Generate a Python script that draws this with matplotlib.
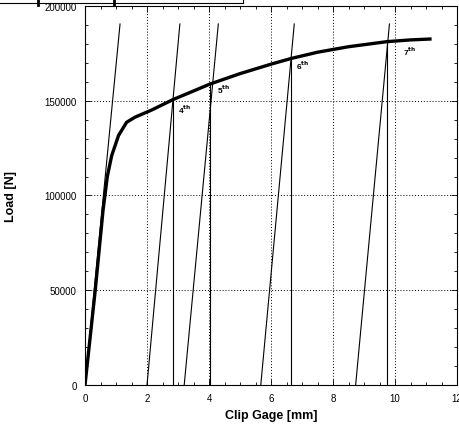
import numpy as np
import matplotlib.pyplot as plt
from matplotlib.lines import Line2D
from matplotlib.ticker import MultipleLocator

plt.rcParams['font.family'] = ['Liberation Sans', 'DejaVu Sans']

# main load - clip gage curve
clip = [0, 0.33, 0.58, 0.65, 0.72, 0.86, 1.08, 1.34, 1.61, 2.15, 2.85, 3.45, 4.03, 5.0, 6.0, 6.65, 7.5, 8.5, 9.75, 10.5, 11.18]
load = [0, 50000, 92000, 101000, 110000, 121000, 131600, 138600, 141300, 145100, 150700, 154800, 158800, 164300, 169300, 172300, 175600, 178500, 181200, 182100, 182600]

# unloading / reloading compliance lines (start at zero load, end at top)
comp_x0 = [0.0, 2.0, 3.2, 5.67, 8.73]
comp_x1 = [1.13, 3.06, 4.30, 6.75, 9.82]
comp_top = 190500

# vertical markers at the crack-growth points
mark_x = [2.85, 4.03, 6.65, 9.75]
mark_y = [150700, 158800, 172300, 181200]

# labels
lab_txt = ['4', '5', '6', '7']
lab_x = [3.0, 4.25, 6.8, 10.27]
lab_y = [146000, 156500, 168900, 176400]

fig = plt.figure(figsize=(4.6, 4.31), dpi=100)
ax = fig.add_axes([0.1848, 0.1044, 0.8087, 0.8794])

for x0, x1 in zip(comp_x0, comp_x1):
    ax.plot([x0, x1], [0, comp_top], color='black', lw=0.8)
for mx, my in zip(mark_x, mark_y):
    ax.plot([mx, mx], [0, my], color='black', lw=0.8)
ax.plot(clip, load, color='black', lw=2.4, solid_capstyle='butt', solid_joinstyle='round')

for t, x, y in zip(lab_txt, lab_x, lab_y):
    ax.text(x, y, t + r'$^{\mathbf{th}}$', fontsize=6, fontweight='bold', ha='left', va='center')

ax.set_xlim(0, 12)
ax.set_ylim(0, 200000)
ax.xaxis.set_major_locator(MultipleLocator(2))
ax.xaxis.set_minor_locator(MultipleLocator(0.5))
ax.yaxis.set_major_locator(MultipleLocator(50000))
ax.yaxis.set_minor_locator(MultipleLocator(10000))
ax.tick_params(which='both', direction='in', top=True, right=True, labelsize=7, pad=6)
ax.tick_params(which='major', length=4, width=0.6)
ax.tick_params(which='minor', length=2.5, width=0.6)
ax.grid(True, which='major', linestyle=(0, (1, 2)), color='black', lw=0.7)
for s in ax.spines.values():
    s.set_linewidth(0.8)

ax.set_xlabel('Clip Gage [mm]', fontsize=9, fontweight='bold', labelpad=4)
ax.set_ylabel('Load [N]', fontsize=9, fontweight='bold', labelpad=20)

# remnant of a box cut off at the top edge
fig.add_artist(Line2D([0, 243 / 460], [1 - 3.5 / 431, 1 - 3.5 / 431], color='black', lw=0.8))
fig.add_artist(Line2D([243 / 460, 243 / 460], [1, 1 - 3.5 / 431], color='black', lw=0.8))
for bx in [38, 114]:
    fig.add_artist(Line2D([bx / 460, bx / 460], [1 - 0.5 / 431, 1 - 6 / 431], color='black', lw=2))

fig.savefig('out.png', dpi=100)
